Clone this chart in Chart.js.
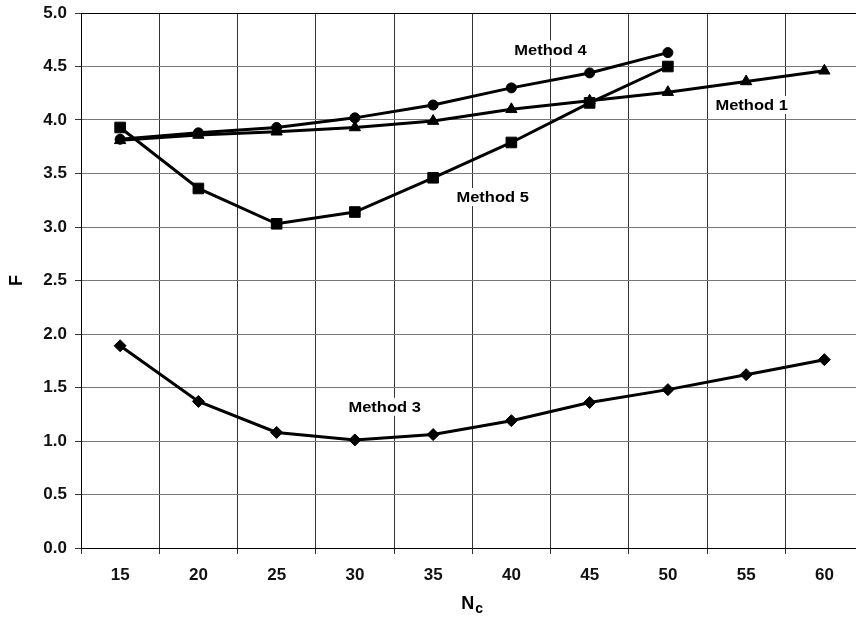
<!DOCTYPE html>
<html>
<head>
<meta charset="utf-8">
<script src="https://cdn.jsdelivr.net/npm/chart.js@4/dist/chart.umd.min.js"></script>
<style>
    html, body { margin: 0; padding: 0; background: #fff; overflow: hidden; }
    #wrap { width: 872px; height: 618px; }
</style>
</head>
<body>
<div id="wrap"><canvas id="chart"></canvas></div>
<script>
// N_c values on the x axis
const categories = ['15', '20', '25', '30', '35', '40', '45', '50', '55', '60'];

const method1 = [3.81, 3.86, 3.89, 3.93, 3.99, 4.10, 4.18, 4.26, 4.36, 4.46];
const method3 = [1.89, 1.37, 1.08, 1.01, 1.06, 1.19, 1.36, 1.48, 1.62, 1.76];
const method4 = [3.82, 3.88, 3.93, 4.02, 4.14, 4.30, 4.44, 4.63, null, null];
const method5 = [3.93, 3.36, 3.03, 3.14, 3.46, 3.79, 4.16, 4.50, null, null];

const yTicks = [0, 0.5, 1, 1.5, 2, 2.5, 3, 3.5, 4, 4.5, 5];

// in-plot labels: text, category index, F value
const noteText = ['Method 4', 'Method 1', 'Method 5', 'Method 3'];
const noteX = [5.50, 8.07, 4.76, 3.38];
const noteY = [4.66, 4.14, 3.28, 1.32];

const FONT = '"Liberation Sans", Arial, sans-serif';

function series(label, data, shape, radius) {
    return {
        label: label,
        data: data,
        borderColor: '#000',
        backgroundColor: '#000',
        borderWidth: 3,
        pointStyle: shape,
        pointRadius: radius,
        pointHoverRadius: radius,
        pointBorderWidth: 1,
        fill: false,
        tension: 0,
        spanGaps: false
    };
}

const labelsPlugin = {
    id: 'labelsPlugin',
    afterDatasetsDraw(chart) {
        const ctx = chart.ctx;
        const x = chart.scales.x, y = chart.scales.y;
        ctx.save();
        ctx.font = 'bold 15px ' + FONT;
        ctx.textAlign = 'center';
        ctx.textBaseline = 'middle';
        noteText.forEach(function (t, i) {
            const px = x.getPixelForValue(noteX[i]);
            const py = y.getPixelForValue(noteY[i]);
            const w = ctx.measureText(t).width * 1.1;
            ctx.fillStyle = '#fff';
            ctx.fillRect(px - w / 2 - 2, py - 9, w + 4, 18);
            ctx.save();
            ctx.translate(px, py);
            ctx.scale(1.1, 1);
            ctx.fillStyle = '#000';
            ctx.fillText(t, 0, 1);
            ctx.restore();
        });
        ctx.restore();
    },
    afterDraw(chart) {
        // x axis title N with subscript c
        const ctx = chart.ctx;
        const area = chart.chartArea;
        ctx.save();
        ctx.fillStyle = '#000';
        ctx.textAlign = 'left';
        ctx.textBaseline = 'alphabetic';
        ctx.font = 'bold 18px ' + FONT;
        const wN = ctx.measureText('N').width;
        ctx.font = 'bold 14px ' + FONT;
        const wc = ctx.measureText('c').width;
        const start = (area.left + area.right) / 2 - (wN + wc + 1) / 2;
        ctx.font = 'bold 18px ' + FONT;
        ctx.fillText('N', start, chart.height - 9);
        ctx.font = 'bold 14px ' + FONT;
        ctx.fillText('c', start + wN + 1, chart.height - 5);
        ctx.restore();
    }
};

new Chart(document.getElementById('chart'), {
    type: 'line',
    data: {
        labels: categories,
        datasets: [
            series('Method 1', method1, 'triangle', 6.5),
            series('Method 3', method3, 'rectRot', 6),
            series('Method 4', method4, 'circle', 5),
            series('Method 5', method5, 'rect', 7.5)
        ]
    },
    options: {
        responsive: true,
        maintainAspectRatio: false,
        animation: false,
        layout: { padding: { top: 13, right: 0, left: 0, bottom: 0 } },
        plugins: {
            legend: { display: false },
            tooltip: { enabled: false }
        },
        scales: {
            x: {
                type: 'category',
                offset: true,
                afterFit: function (s) { s.height = 70; },
                grid: {
                    offset: true,
                    color: '#333',
                    lineWidth: 1,
                    tickLength: 6,
                    tickColor: '#333'
                },
                border: { color: '#000', width: 1 },
                ticks: {
                    color: '#111',
                    padding: 11,
                    maxRotation: 0,
                    font: { family: FONT, size: 17, weight: 'bold' }
                }
            },
            y: {
                min: 0,
                max: 5,
                afterFit: function (s) {
                    s.width = 81;
                    s.paddingTop = 0;
                    s.paddingBottom = 0;
                },
                afterBuildTicks: function (s) { s.ticks = yTicks.map(function (v) { return { value: v }; }); },
                grid: {
                    color: function (c) { return c.tick && c.tick.value === 5 ? '#000' : '#777'; },
                    lineWidth: 1,
                    tickLength: 6,
                    tickColor: '#333'
                },
                border: { color: '#000', width: 1 },
                title: {
                    display: true,
                    text: 'F',
                    color: '#000',
                    padding: { top: 6, bottom: 0 },
                    font: { family: FONT, size: 18, weight: 'bold' }
                },
                ticks: {
                    color: '#111',
                    padding: 8,
                    font: { family: FONT, size: 17, weight: 'bold' },
                    callback: function (v) { return Number(v).toFixed(1); }
                }
            }
        }
    },
    plugins: [labelsPlugin]
});
</script>
</body>
</html>
